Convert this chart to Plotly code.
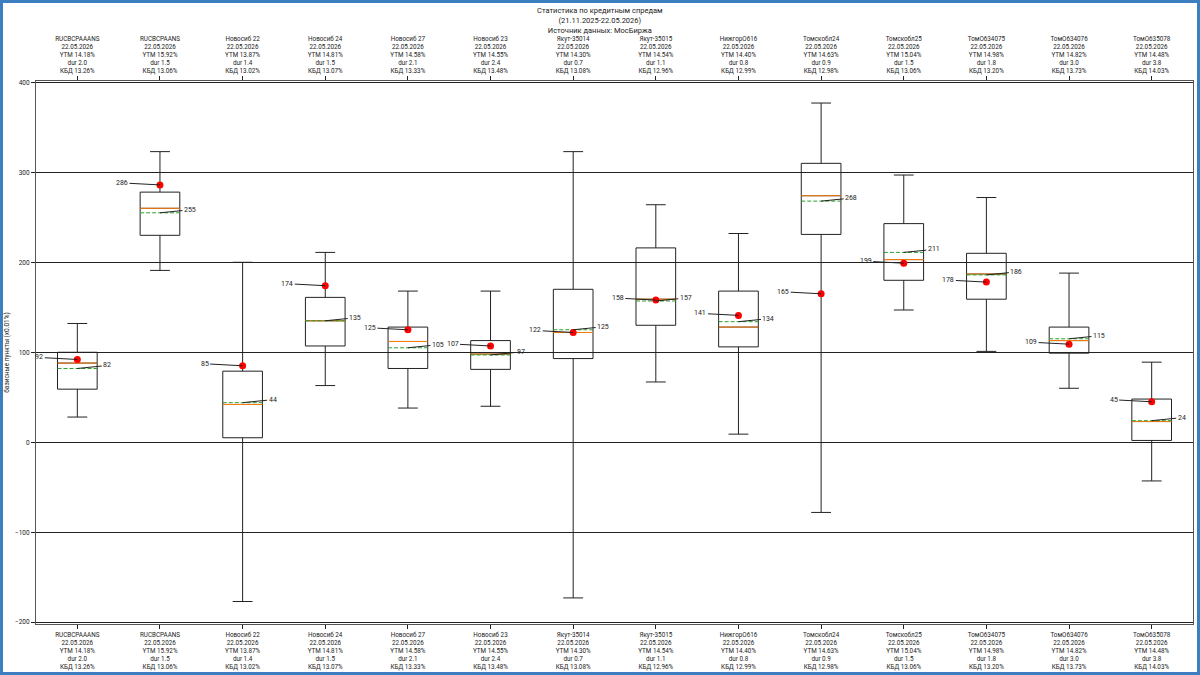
import plotly.graph_objects as go

names = ["RUCBCPAAANS", "RUCBCPAANS", "Новосиб 22", "Новосиб 24", "Новосиб 27", "Новосиб 23",
         "Якут-35014", "Якут-35015", "НижгорО616", "Томскобл24", "Томскобл25", "ТомО634075",
         "ТомО634076", "ТомО635078"]
dates = ["22.05.2026"] * 14
ytm = [14.18, 15.92, 13.87, 14.81, 14.58, 14.55, 14.30, 14.54, 14.40, 14.63, 15.04, 14.98, 14.82, 14.48]
dur = [2.0, 1.5, 1.4, 1.5, 2.1, 2.4, 0.7, 1.1, 0.8, 0.9, 1.5, 1.8, 3.0, 3.8]
kbd = [13.26, 13.06, 13.02, 13.07, 13.33, 13.48, 13.08, 12.96, 12.99, 12.98, 13.06, 13.20, 13.73, 14.03]

upper = [132, 323, 200, 211, 168, 168, 323, 264, 232, 377, 297, 272, 188, 89]
q3 = [100, 278, 79, 161, 128, 113, 170, 216, 168, 310, 243, 210, 128, 48]
median = [88, 260, 42, 135, 112, 98, 122, 159, 128, 274, 203, 187, 113, 23]
mean = [82, 255, 44, 135, 105, 97, 125, 157, 134, 268, 211, 186, 115, 24]
q1 = [59, 230, 5, 107, 82, 81, 93, 130, 106, 231, 180, 159, 99, 2]
lower = [28, 191, -177, 63, 38, 40, -173, 67, 9, -78, 147, 101, 60, -43]
current = [92, 286, 85, 174, 125, 107, 122, 158, 141, 165, 199, 178, 109, 45]

title_lines = ["Статистика по кредитным спредам", "(21.11.2025-22.05.2026)", "Источник данных: МосБиржа"]

pos = list(range(len(names)))
BW = 0.48
labels = [f"{n}<br>{d}<br>YTM {y:.2f}%<br>dur {du:.1f}<br>КБД {k:.2f}%"
          for n, d, y, du, k in zip(names, dates, ytm, dur, kbd)]

FONT = "Roboto"
TXT = "#222222"
fig = go.Figure()

fig.add_trace(go.Box(
    x=pos, q1=q1, median=median, q3=q3, lowerfence=lower, upperfence=upper,
    width=BW, whiskerwidth=0.5, boxpoints=False,
    line=dict(color="#222222", width=1), fillcolor="rgba(255,255,255,0)",
    showlegend=False, hoverinfo="skip"))

# median lines (orange) and mean lines (green dashed)
mx, my, ax_, ay_ = [], [], [], []
for p, m, a in zip(pos, median, mean):
    mx += [p - BW / 2, p + BW / 2, None]
    my += [m, m, None]
    ax_ += [p - BW / 2, p + BW / 2, None]
    ay_ += [a, a, None]
fig.add_trace(go.Scatter(x=mx, y=my, mode="lines", line=dict(color="#ff7f0e", width=1),
                         showlegend=False, hoverinfo="skip"))
fig.add_trace(go.Scatter(x=ax_, y=ay_, mode="lines",
                         line=dict(color="#2ca02c", width=1, dash="4px,2px"),
                         showlegend=False, hoverinfo="skip"))

fig.add_trace(go.Scatter(x=pos, y=current, mode="markers",
                         marker=dict(color="red", size=7), showlegend=False, hoverinfo="skip"))

# invisible trace for the top axis
fig.add_trace(go.Scatter(x=pos, y=current, xaxis="x2", mode="markers",
                         marker=dict(opacity=0), showlegend=False, hoverinfo="skip"))

for p, c, a in zip(pos, current, mean):
    fig.add_annotation(x=p, y=c, text=str(c), showarrow=True, arrowhead=0, arrowwidth=1,
                       arrowcolor=TXT, ax=-38, ay=-2, font=dict(size=7, color=TXT))
    fig.add_annotation(x=p, y=a, text=str(a), showarrow=True, arrowhead=0, arrowwidth=1,
                       arrowcolor=TXT, ax=30, ay=-3, font=dict(size=7, color=TXT))

pw, ph = 1200 - 36 - 7, 675 - 81 - 51

# title as annotation
fig.add_annotation(text="<br>".join(title_lines), xref="paper", yref="paper",
                   x=(600 - 36) / pw, y=1 + (81 - 4) / ph, xanchor="center", yanchor="top",
                   showarrow=False, font=dict(size=7.5, color=TXT, family=FONT))

xcommon = dict(range=[-0.5, len(names) - 0.5], tickvals=pos, ticktext=labels,
               ticks="outside", ticklen=4, tickcolor=TXT, showgrid=False,
               zeroline=False, automargin=False,
               tickfont=dict(size=6.3, color=TXT, family=FONT))

fig.update_layout(
    width=1200, height=675,
    margin=dict(l=36, r=7, t=81, b=51, autoexpand=False),
    paper_bgcolor="white", plot_bgcolor="white",
    font=dict(family=FONT, size=8, color=TXT),
    xaxis=dict(**xcommon, showline=True, linecolor="#555555", linewidth=1, mirror=True),
    xaxis2=dict(**xcommon, overlaying="x", side="top", showline=False),
    yaxis=dict(range=[-202, 401.5], dtick=100, tick0=0, ticks="outside", ticklen=4,
               tickcolor=TXT, showgrid=True, gridcolor="#222222", gridwidth=1,
               zeroline=False, showline=True, linecolor="#555555", linewidth=1, mirror=True,
               automargin=False, tickfont=dict(size=6.5, color=TXT),
               title=dict(text="базисные пункты (x0.01%)", font=dict(size=6.5, color=TXT), standoff=4)),
    showlegend=False,
)

# blue border around whole figure
fig.add_shape(type="rect", xref="paper", yref="paper",
              x0=(-36 + 1.5) / pw, x1=1 + (7 - 1.5) / pw,
              y0=(-51 + 1.5) / ph, y1=1 + (81 - 1.5) / ph,
              line=dict(color="#3c7fc1", width=3), fillcolor="rgba(0,0,0,0)", layer="above")

fig.write_html("out.html")
